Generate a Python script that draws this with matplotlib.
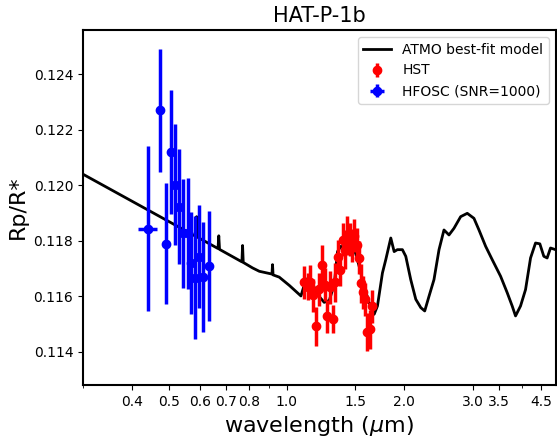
import matplotlib
matplotlib.use("Agg")
import matplotlib.pyplot as plt
from matplotlib.ticker import NullFormatter
import numpy as np

# ATMO best-fit model
model_wl = [0.29, 0.30, 0.584, 0.587, 0.590, 0.666, 0.669, 0.672, 0.767, 0.770, 0.773,
            0.817, 0.850, 0.916, 0.919, 0.922, 0.956, 1.015, 1.056, 1.087, 1.109,
            1.130, 1.155, 1.188, 1.211, 1.247, 1.285, 1.323, 1.349, 1.376, 1.412,
            1.445, 1.474, 1.497, 1.533, 1.579, 1.626, 1.675, 1.708, 1.759, 1.794,
            1.848, 1.885, 1.921, 1.979, 2.019, 2.079, 2.142, 2.206, 2.258, 2.316,
            2.385, 2.457, 2.530, 2.606, 2.684, 2.792, 2.903, 3.020, 3.111, 3.236,
            3.364, 3.535, 3.675, 3.785, 3.861, 3.977, 4.096, 4.219, 4.345, 4.457,
            4.563, 4.653, 4.747, 4.889, 5.0]
model_rp = [0.12051, 0.12040, 0.11816, 0.11887, 0.11813, 0.11772, 0.11818, 0.11769,
            0.11724, 0.11783, 0.11722, 0.11702, 0.11690, 0.11680, 0.11714, 0.11677,
            0.11669, 0.11639, 0.11617, 0.11601, 0.11642, 0.11664, 0.11657, 0.11618,
            0.11599, 0.11578, 0.11585, 0.11642, 0.11761, 0.11780, 0.11771, 0.11780,
            0.11757, 0.11761, 0.11708, 0.11636, 0.11577, 0.11535, 0.11565, 0.11684,
            0.11732, 0.11810, 0.11761, 0.11768, 0.11768, 0.11744, 0.11660, 0.11589,
            0.11559, 0.11547, 0.11600, 0.11660, 0.11768, 0.11839, 0.11821, 0.11845,
            0.11887, 0.11899, 0.11881, 0.11839, 0.11780, 0.11732, 0.11672, 0.11613,
            0.11565, 0.11529, 0.11565, 0.11624, 0.11738, 0.11792, 0.11789, 0.11744,
            0.11738, 0.11774, 0.11768, 0.11770]

# HST WFC3 points
hst_wl = [1.11, 1.13, 1.15, 1.17, 1.19, 1.21, 1.23, 1.25, 1.27, 1.29, 1.31, 1.33,
          1.35, 1.37, 1.39, 1.41, 1.43, 1.45, 1.47, 1.49, 1.51, 1.53, 1.55, 1.57,
          1.59, 1.61, 1.63, 1.65]
hst_rp = [0.11650, 0.11635, 0.11653, 0.11603, 0.11492, 0.11625, 0.11714, 0.11642,
          0.11528, 0.11632, 0.11517, 0.11650, 0.11743, 0.11696, 0.11804, 0.11768,
          0.11818, 0.11804, 0.11782, 0.11818, 0.11786, 0.11739, 0.11646, 0.11614,
          0.11589, 0.11471, 0.11481, 0.11564]
hst_err = [0.0006, 0.0005, 0.0006, 0.0006, 0.0007, 0.0006, 0.0007, 0.0006,
           0.0006, 0.0006, 0.0005, 0.0007, 0.0006, 0.0006, 0.0006, 0.0007,
           0.0007, 0.0006, 0.0006, 0.0006, 0.0006, 0.0006, 0.0007, 0.0006,
           0.0006, 0.0007, 0.0007, 0.0006]

# HFOSC simulated points
hf_wl = [0.440, 0.473, 0.490, 0.504, 0.518, 0.529, 0.543, 0.557, 0.568, 0.583,
         0.594, 0.608, 0.633]
hf_rp = [0.11843, 0.12270, 0.11789, 0.12119, 0.12002, 0.11923, 0.11827, 0.11827,
         0.11719, 0.11667, 0.11743, 0.11669, 0.11709]
hf_err = [0.00297, 0.00222, 0.00218, 0.00224, 0.00218, 0.00208, 0.00197, 0.00200,
          0.00183, 0.00222, 0.00186, 0.00197, 0.00197]
hf_xerr = [0.025, 0, 0, 0, 0, 0, 0, 0, 0, 0, 0, 0, 0]

xticks = [0.4, 0.5, 0.6, 0.7, 0.8, 1.0, 1.5, 2.0, 3.0, 3.5, 4.5]

fig = plt.figure(figsize=(5.57, 4.38), dpi=100)
ax = fig.add_axes([0.149, 0.121, 0.849, 0.8105])

ax.plot(model_wl, model_rp, color="black", lw=2, label="ATMO best-fit model", zorder=2)
ax.errorbar(hst_wl, hst_rp, yerr=hst_err, fmt="o", color="red", ms=6,
            elinewidth=2.5, label="HST", zorder=3)
ax.errorbar(hf_wl, hf_rp, yerr=hf_err, xerr=hf_xerr, fmt="o", color="blue", ms=6,
            elinewidth=2.5, label="HFOSC (SNR=1000)", zorder=3)

ax.set_xscale("log")
ax.set_xlim(0.3, 4.9)
ax.set_ylim(0.1128, 0.1256)
ax.set_xticks(xticks)
ax.set_xticklabels([f"{t:.1f}" for t in xticks])
ax.xaxis.set_minor_formatter(NullFormatter())
ax.set_yticks([0.114, 0.116, 0.118, 0.120, 0.122, 0.124])
ax.tick_params(labelsize=10)
for s in ax.spines.values():
    s.set_linewidth(1.5)

ax.set_xlabel(r"wavelength ($\mu$m)", fontsize=16)
ax.set_ylabel("Rp/R*", fontsize=16)
ax.set_title("HAT-P-1b", fontsize=15)
ax.legend(loc="upper right", fontsize=10)

fig.savefig("out.png", dpi=100)
